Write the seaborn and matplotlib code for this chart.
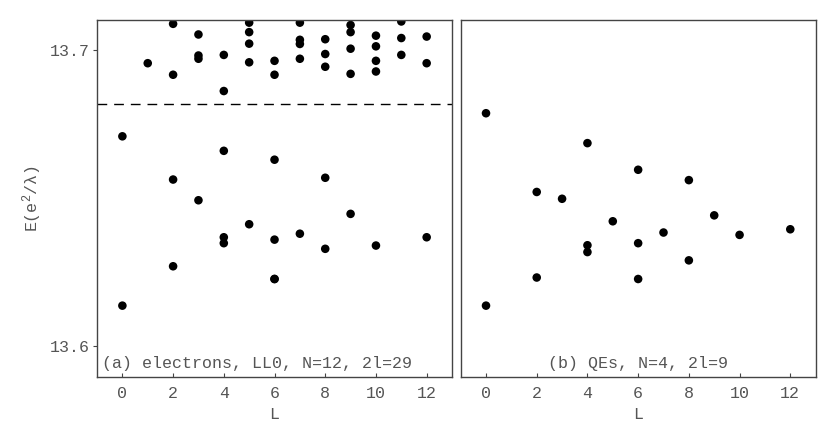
import numpy as np
import pandas as pd
import matplotlib
matplotlib.use("Agg")
import matplotlib.pyplot as plt
import seaborn as sns

# panel (a): electrons, LL0, N=12, 2l=29
elec_L = [0, 0,
          1,
          2, 2, 2, 2,
          3, 3, 3, 3,
          4, 4, 4, 4, 4,
          5, 5, 5, 5, 5,
          6, 6, 6, 6, 6, 6,
          7, 7, 7, 7, 7,
          8, 8, 8, 8, 8,
          9, 9, 9, 9, 9,
          10, 10, 10, 10, 10,
          11, 11, 11,
          12, 12, 12]
elec_E = [13.6708, 13.6136,
          13.6955,
          13.7088, 13.6916, 13.6562, 13.6269,
          13.7052, 13.6981, 13.6970, 13.6492,
          13.6983, 13.6861, 13.6659, 13.6367, 13.6347,
          13.7092, 13.7060, 13.7021, 13.6958, 13.6411,
          13.6963, 13.6916, 13.6629, 13.6359, 13.6226, 13.6226,
          13.7092, 13.7034, 13.7020, 13.6970, 13.6379,
          13.7036, 13.6986, 13.6943, 13.6568, 13.6328,
          13.7084, 13.7060, 13.7004, 13.6919, 13.6446,
          13.7048, 13.7012, 13.6963, 13.6927, 13.6339,
          13.7096, 13.7040, 13.6983,
          13.7045, 13.6955, 13.6367]
gap_E = 13.6818

# panel (b): QEs, N=4, 2l=9
qe_L = [0, 0, 2, 2, 3, 4, 4, 4, 5, 6, 6, 6, 7, 8, 8, 9, 10, 12]
qe_E = [13.6786, 13.6136, 13.6520, 13.6231, 13.6497, 13.6685, 13.6340, 13.6317,
        13.6421, 13.6595, 13.6347, 13.6226, 13.6383, 13.6560, 13.6289, 13.6441,
        13.6375, 13.6394]

x_ticks = [0, 2, 4, 6, 8, 10, 12]
y_ticks = [13.6, 13.7]

sns.set_style("white")
plt.rcParams['font.family'] = ['Liberation Mono', 'DejaVu Sans Mono']
plt.rcParams['mathtext.fontset'] = 'custom'
plt.rcParams['mathtext.rm'] = 'Liberation Mono'
plt.rcParams['mathtext.it'] = 'Liberation Mono'

fig = plt.figure(figsize=(8.3, 4.47), dpi=100)
ax1 = fig.add_axes([0.1169, 0.1573, 0.4277, 0.798])
ax2 = fig.add_axes([0.555, 0.1573, 0.4277, 0.798])

df_a = pd.DataFrame({"L": elec_L, "E": elec_E})
df_b = pd.DataFrame({"L": qe_L, "E": qe_E})

txt_col = "#555555"
for ax, df in [(ax1, df_a), (ax2, df_b)]:
    sns.scatterplot(data=df, x="L", y="E", ax=ax, color="black", s=38,
                    edgecolor="none", linewidth=0)
    ax.set_xlim(-1, 13)
    ax.set_ylim(13.5896, 13.7101)
    ax.set_xticks(x_ticks)
    ax.set_xlabel("L", fontsize=12, color=txt_col)
    ax.tick_params(axis="x", bottom=True, direction="in", length=3, width=0.8,
                   labelsize=12, labelcolor=txt_col, color="#444444", pad=7)
    for sp in ax.spines.values():
        sp.set_color("#444444")
        sp.set_linewidth(1.0)

ax1.set_yticks(y_ticks)
ax1.set_yticklabels(["13.6", "13.7"])
ax1.tick_params(axis="y", left=True, direction="out", length=3, width=0.8,
                labelsize=12, labelcolor=txt_col, color="#444444", pad=2)
ax1.set_ylabel(r"E(e$^2$/$\lambda$)", fontsize=12, color=txt_col)
ax1.yaxis.set_label_coords(-0.15, 0.5)
ax2.set_yticks([])
ax2.set_ylabel("")

ax1.axhline(gap_E, color="black", linestyle=(0, (7, 5)), linewidth=1.0)

ax1.text(0.015, 0.015, "(a) electrons, LL0, N=12, 2l=29", transform=ax1.transAxes,
         ha="left", va="bottom", fontsize=12, color=txt_col)
ax2.text(0.5, 0.015, "(b) QEs, N=4, 2l=9", transform=ax2.transAxes,
         ha="center", va="bottom", fontsize=12, color=txt_col)

fig.savefig("out.png", dpi=100)
